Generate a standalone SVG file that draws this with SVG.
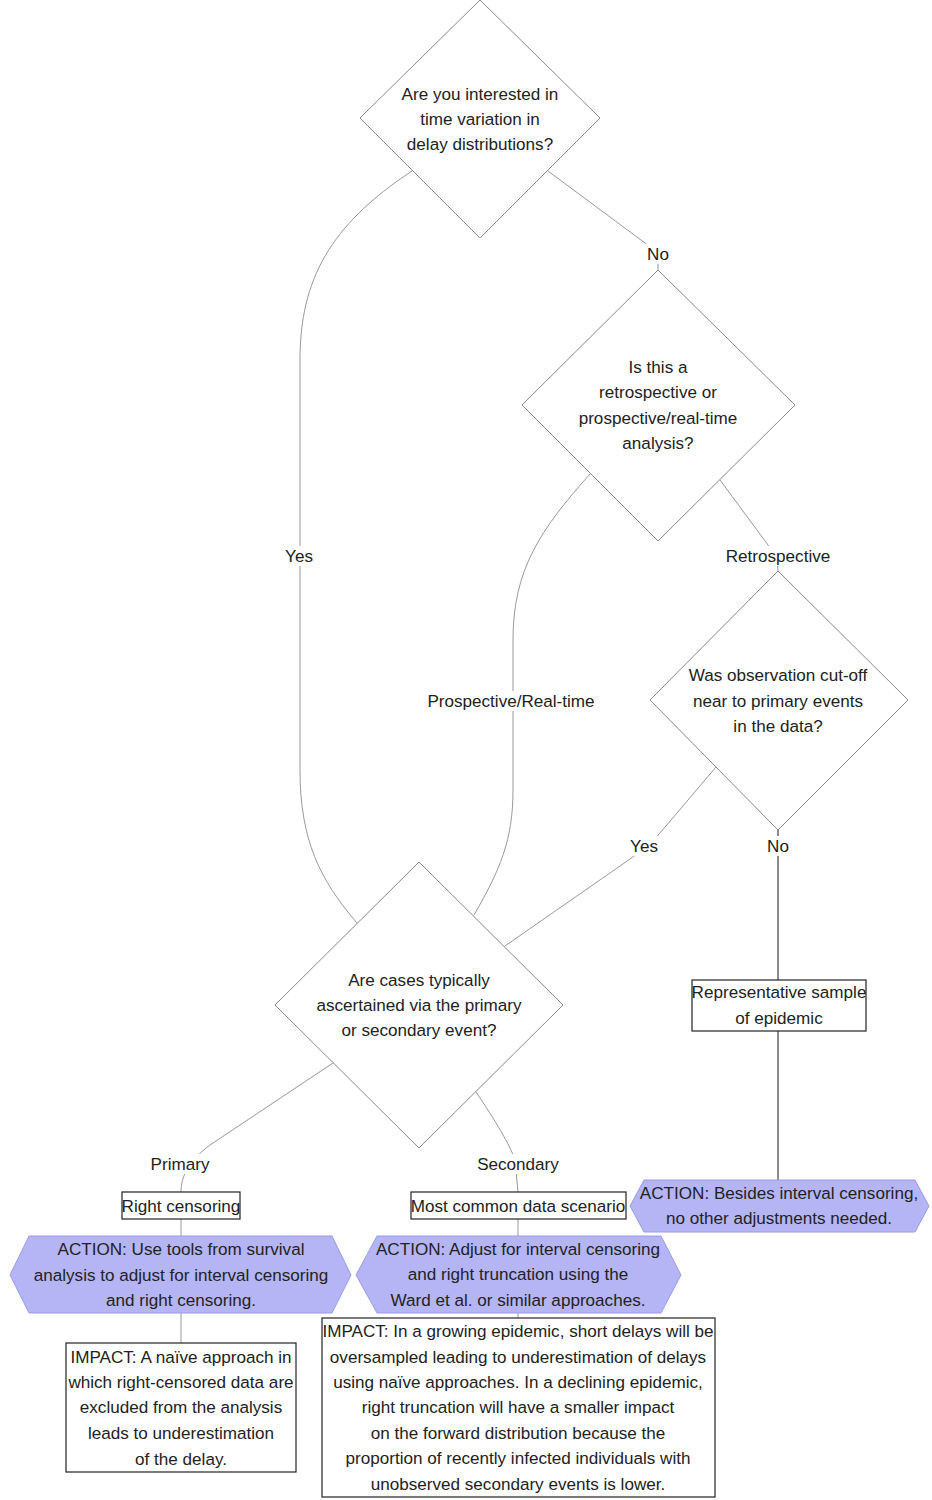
<svg xmlns="http://www.w3.org/2000/svg" width="932" height="1500" viewBox="0 0 932 1500">
<style>
text{font-family:"Liberation Sans","DejaVu Sans",sans-serif;font-size:17.1px;fill:#222;text-anchor:middle;dominant-baseline:central}
.dia{fill:#fff;stroke:#888;stroke-width:1}
.box{fill:#fff;stroke:#222;stroke-width:1.2}
.hex{fill:#b5b5f6;stroke:#9a9ae6;stroke-width:1}
.edge{fill:none;stroke:#999;stroke-width:1}
.dark{stroke:#666;stroke-width:1.5}
.lblbg{fill:#fff}
</style>
<rect width="932" height="1500" fill="#fff"/>
<g id="connectors">
<path class="edge" d="M412,171 C330,225 300,280 300,360 L300,770 C300,840 320,880 357,923"/>
<path class="edge" d="M548,171 L645,243 C655,250 658,255 658,262 L658,270"/>
<path class="edge" d="M590,474 C540,530 513,570 513,640 L513,790 C513,840 500,870 474,915"/>
<path class="edge" d="M720,480 L768,545 Q778,558 778,571"/>
<path class="edge" d="M716,767 L660,833 C650,845 640,852 620,866 L505,946"/>
<path class="edge dark" d="M778,830 L778,980"/>
<path class="edge dark" d="M778,1031 L778,1180"/>
<path class="edge" d="M333,1063 L210,1145 C190,1160 181,1175 181,1192"/>
<path class="edge" d="M476,1092 C495,1120 510,1145 515,1160 L518,1192"/>
<path class="edge" d="M181,1219 L181,1236"/>
<path class="edge" d="M181,1313 L181,1343"/>
<path class="edge" d="M518,1219 L518,1236"/>
<path class="edge" d="M518,1313 L518,1318"/>
<g id="edge-labels">
<rect class="lblbg" x="645" y="244" width="26" height="20"/><text x="658" y="254">No</text>
<rect class="lblbg" x="284" y="546" width="30" height="20"/><text x="299" y="556">Yes</text>
<rect class="lblbg" x="724" y="546" width="108" height="20"/><text x="778" y="556">Retrospective</text>
<rect class="lblbg" x="424" y="691" width="174" height="20"/><text x="511" y="701">Prospective/Real-time</text>
<rect class="lblbg" x="629" y="836" width="30" height="20"/><text x="644" y="846">Yes</text>
<rect class="lblbg" x="765" y="836" width="26" height="20"/><text x="778" y="846">No</text>
<rect class="lblbg" x="149" y="1154" width="62" height="20"/><text x="180" y="1164">Primary</text>
<rect class="lblbg" x="477" y="1154" width="82" height="20"/><text x="518" y="1164">Secondary</text>
</g>
</g>
<g id="q1">
<polygon class="dia" points="480,0 600,118 480,238 360,118"/>
<text x="480" y="94">Are you interested in</text>
<text x="480" y="119">time variation in</text>
<text x="480" y="144">delay distributions?</text>
</g>
<g id="q2">
<polygon class="dia" points="658,270 795,405 658,541 522,405"/>
<text x="658" y="367">Is this a</text>
<text x="658" y="392">retrospective or</text>
<text x="658" y="418">prospective/real-time</text>
<text x="658" y="443">analysis?</text>
</g>
<g id="q3">
<polygon class="dia" points="778,571 908,700 778,830 650,700"/>
<text x="778" y="675">Was observation cut-off</text>
<text x="778" y="701">near to primary events</text>
<text x="778" y="726">in the data?</text>
</g>
<g id="q4">
<polygon class="dia" points="419,862 563,1005 419,1148 275,1005"/>
<text x="419" y="980">Are cases typically</text>
<text x="419" y="1005">ascertained via the primary</text>
<text x="419" y="1030">or secondary event?</text>
</g>
<g id="representative">
<rect class="box" x="692" y="980" width="174" height="51"/>
<text x="779" y="992">Representative sample</text>
<text x="779" y="1018">of epidemic</text>
</g>
<g id="action3">
<polygon class="hex" points="630,1206 644,1180 915,1180 929,1206 915,1232 644,1232"/>
<text x="779" y="1193">ACTION: Besides interval censoring,</text>
<text x="779" y="1218">no other adjustments needed.</text>
</g>
<g id="right-censoring">
<rect class="box" x="122" y="1192" width="118" height="27"/>
<text x="181" y="1206">Right censoring</text>
</g>
<g id="most-common">
<rect class="box" x="411" y="1192" width="215" height="27"/>
<text x="518" y="1206">Most common data scenario</text>
</g>
<g id="action1">
<polygon class="hex" points="10,1275 29,1236 332,1236 351,1275 332,1313 29,1313"/>
<text x="181" y="1249">ACTION: Use tools from survival</text>
<text x="181" y="1275">analysis to adjust for interval censoring</text>
<text x="181" y="1300">and right censoring.</text>
</g>
<g id="action2">
<polygon class="hex" points="356,1275 377,1236 661,1236 681,1275 661,1313 377,1313"/>
<text x="518" y="1249">ACTION: Adjust for interval censoring</text>
<text x="518" y="1274">and right truncation using the</text>
<text x="518" y="1300">Ward et al. or similar approaches.</text>
</g>
<g id="impact1">
<rect class="box" x="66" y="1343" width="230" height="129"/>
<text x="181" y="1357">IMPACT: A naïve approach in</text>
<text x="181" y="1382">which right-censored data are</text>
<text x="181" y="1407">excluded from the analysis</text>
<text x="181" y="1433">leads to underestimation</text>
<text x="181" y="1459">of the delay.</text>
</g>
<g id="impact2">
<rect class="box" x="322" y="1318" width="393" height="179"/>
<text x="518" y="1331">IMPACT: In a growing epidemic, short delays will be</text>
<text x="518" y="1357">oversampled leading to underestimation of delays</text>
<text x="518" y="1382">using naïve approaches. In a declining epidemic,</text>
<text x="518" y="1407">right truncation will have a smaller impact</text>
<text x="518" y="1433">on the forward distribution because the</text>
<text x="518" y="1458">proportion of recently infected individuals with</text>
<text x="518" y="1484">unobserved secondary events is lower.</text>
</g>
</svg>
